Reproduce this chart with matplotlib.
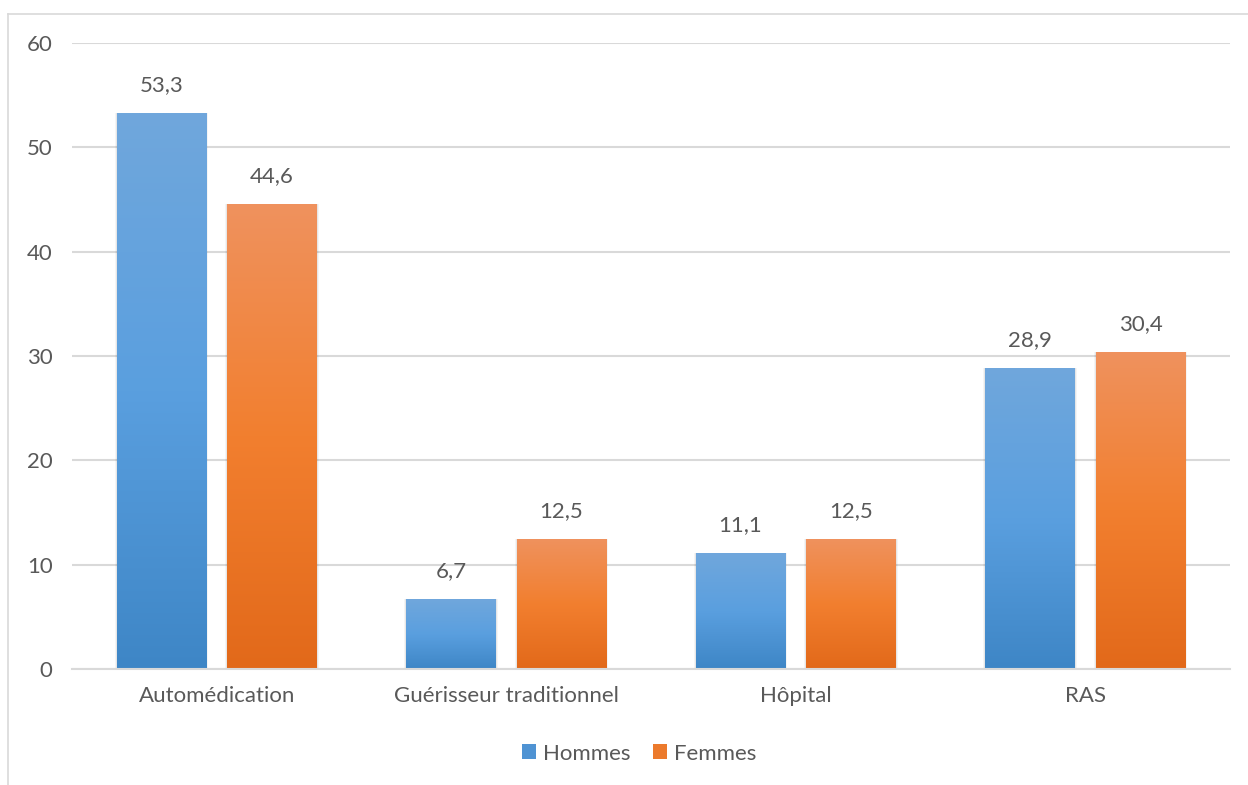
import matplotlib.pyplot as plt
import numpy as np
from matplotlib.lines import Line2D
from matplotlib.colors import LinearSegmentedColormap

categories = ['Automédication', 'Guérisseur traditionnel', 'Hôpital', 'RAS']
hommes = [53.3, 6.7, 11.1, 28.9]
femmes = [44.6, 12.5, 12.5, 30.4]
yticks = [0, 10, 20, 30, 40, 50, 60]

plt.rcParams['font.family'] = ['Lato', 'DejaVu Sans']
text_color = '#595959'
grid_color = '#d9d9d9'

fig = plt.figure(figsize=(12.48, 7.85), dpi=100)
ax = fig.add_axes([0.0577, 0.1478, 0.9279, 0.7972])

x = np.arange(len(categories))
width = 0.31
offset = 0.191

blue_map = LinearSegmentedColormap.from_list('blue', ['#3e86c6', '#5a9fdf', '#70a7dc'])
orange_map = LinearSegmentedColormap.from_list('orange', ['#e2691a', '#f27f2f', '#ef925e'])
grad = np.linspace(0, 1, 256).reshape(-1, 1)


def gradient_bars(xpos, values, cmap, label):
    bars = ax.bar(xpos, values, width, color='none', edgecolor='none', label=label, zorder=3)
    for bar, v in zip(bars, values):
        x0 = bar.get_x()
        # soft shadow around each bar
        for grow, a in [(0.012, 0.04), (0.006, 0.06)]:
            ax.bar(x0 + width / 2, v + grow * 10, width + grow, bottom=-grow * 10,
                   color='#000000', alpha=a, linewidth=0, zorder=2)
        im = ax.imshow(grad, cmap=cmap, origin='lower', aspect='auto',
                       extent=[x0, x0 + width, 0, v], zorder=3)
        im.set_clip_path(bar)
        ax.text(x0 + width / 2, v + 1.7, f'{v:.1f}'.replace('.', ','),
                ha='center', va='bottom', fontsize=16, color=text_color)
    return bars


b1 = gradient_bars(x - offset, hommes, blue_map, 'Hommes')
b2 = gradient_bars(x + offset, femmes, orange_map, 'Femmes')

ax.set_xlim(-0.5, 3.5)
ax.set_ylim(0, 60)
ax.set_yticks(yticks)
ax.set_xticks(x)
ax.set_xticklabels(categories)
ax.yaxis.grid(True, color=grid_color, linewidth=1.5, zorder=0)
ax.set_axisbelow(True)
ax.tick_params(axis='both', length=0, labelsize=16, colors=text_color)
ax.tick_params(axis='y', pad=14)
ax.tick_params(axis='x', pad=12)
for s in ['top', 'right', 'left']:
    ax.spines[s].set_visible(False)
ax.spines['bottom'].set_color(grid_color)
ax.spines['bottom'].set_linewidth(1.5)
ax.spines['bottom'].set_zorder(4)

handles = [plt.Rectangle((0, 0), 1, 1, facecolor='#4f93d3'),
           plt.Rectangle((0, 0), 1, 1, facecolor='#ec7a2c')]
fig.legend(handles, ['Hommes', 'Femmes'], loc='center', bbox_to_anchor=(0.512, 0.04),
           ncol=2, frameon=False, fontsize=16, handlelength=0.65, handleheight=0.65,
           handletextpad=0.3, columnspacing=1.0, labelcolor=text_color)

# outer chart frame
fig.add_artist(Line2D([8 / 1248, 8 / 1248], [0, 1 - 14 / 785], color=grid_color, linewidth=1.2))
fig.add_artist(Line2D([8 / 1248, 1], [1 - 14 / 785, 1 - 14 / 785], color=grid_color, linewidth=1.2))

fig.savefig('out.png', dpi=100, facecolor='white')
